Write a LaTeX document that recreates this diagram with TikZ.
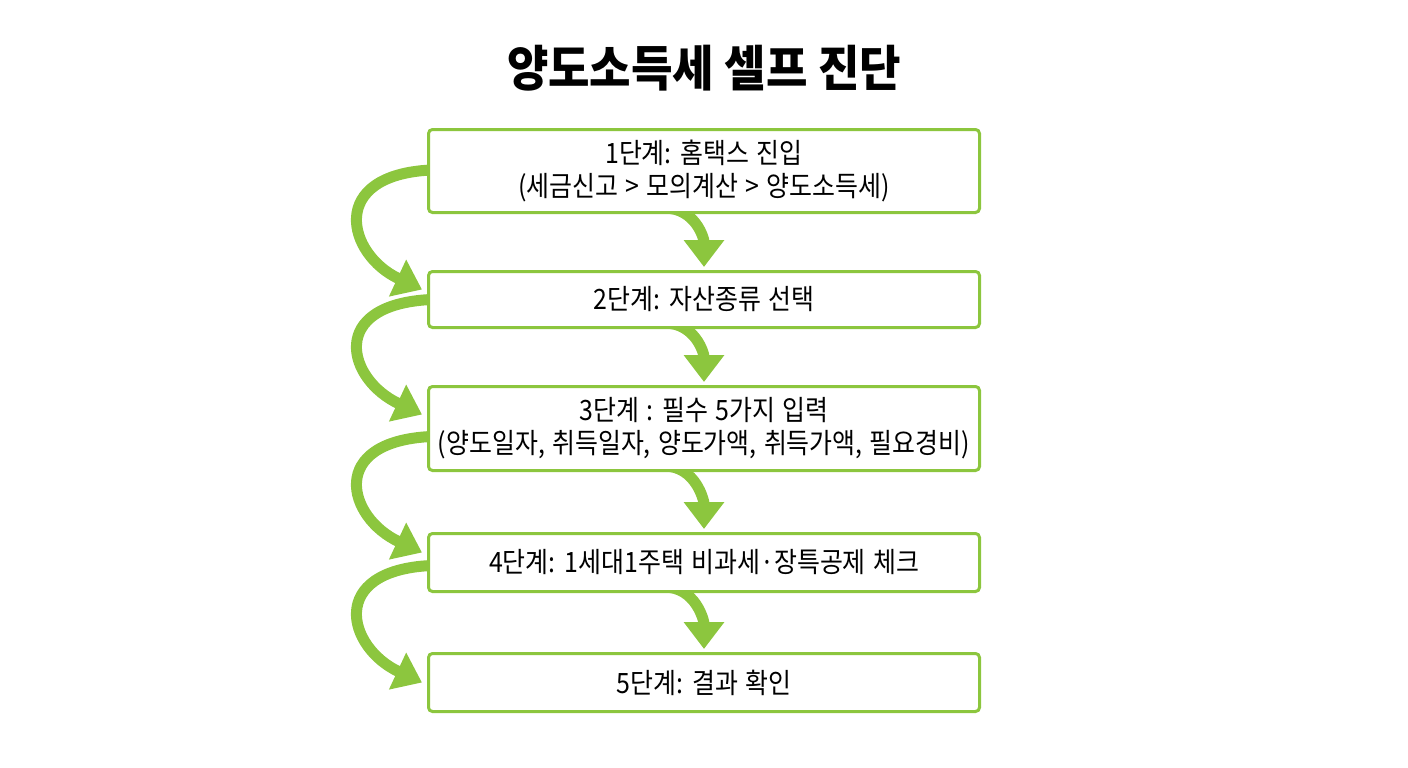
\documentclass[tikz,border=0pt]{standalone}
\usepackage{fontspec}
\setmainfont[FakeStretch=0.89,WordSpace=1.3]{Noto Sans CJK KR}
\newfontfamily\titlefont[FakeStretch=0.92]{Noto Sans CJK KR}
\usetikzlibrary{arrows.meta,backgrounds}
\definecolor{lg}{HTML}{8CC63E}
\begin{document}
\begin{tikzpicture}[x=1pt,y=-1pt,
  box/.style={draw=lg, line width=3pt, rounded corners=4pt, fill=white, minimum width=551pt, align=center, inner sep=0pt, font=\fontsize{28}{33}\selectfont},
  flow/.style={draw=lg, line width=11pt, -{Triangle[length=27pt,width=39pt]}}]
\useasboundingbox (0,0) rectangle (1408,768);
\node[font=\titlefont\fontsize{49}{55}\selectfont\bfseries] (title) at (704,68) {양도소득세 셀프 진단};
\node[box, minimum height=83pt] (b1) at (704,171) {1단계: 홈택스 진입\\(세금신고 > 모의계산 > 양도소득세)};
\node[box, minimum height=56pt] (b2) at (704,299.5) {2단계: 자산종류 선택};
\node[box, minimum height=84pt] (b3) at (704,428.5) {3단계 : 필수 5가지 입력\\(양도일자, 취득일자, 양도가액, 취득가액, 필요경비)};
\node[box, minimum height=58pt] (b4) at (704,562.5) {4단계: 1세대1주택 비과세·장특공제 체크};
\node[box, minimum height=58pt] (b5) at (704,682.5) {5단계: 결과 확인};
\begin{scope}[on background layer]
\foreach \a/\b/\s/\e in {b1/b2/1/10, b2/b3/0/14, b3/b4/-8/10, b4/b5/-3/0}{
  \draw[flow] ([xshift=4pt,yshift=\s pt]\a.west) .. controls +(-104,5) and +(-75,-35) .. ([xshift=-5pt,yshift=\e pt]\b.west);
  \draw[flow] ([xshift=-40pt,yshift=6pt]\a.south) .. controls +(32,0) and +(0,-28) .. ([yshift=3pt]\b.north);
}
\end{scope}
\end{tikzpicture}
\end{document}
